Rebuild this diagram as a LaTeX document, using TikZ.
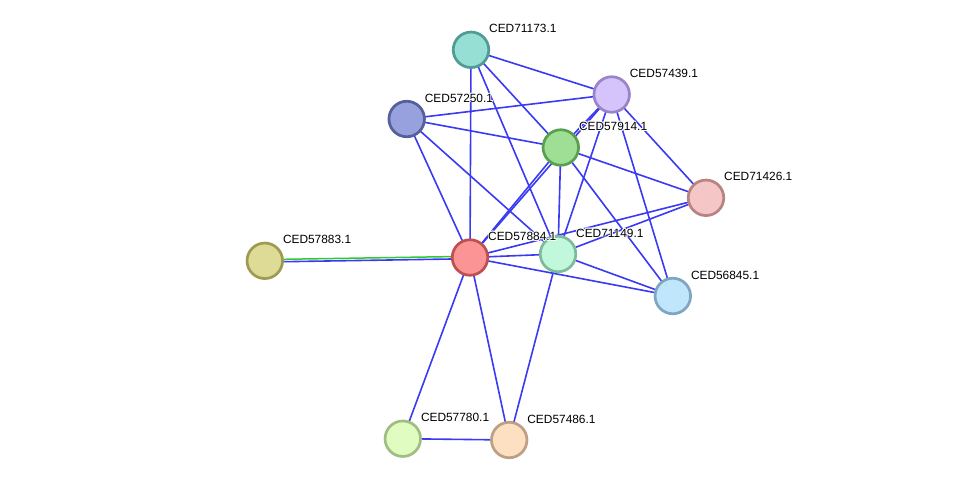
\documentclass[tikz,border=0pt]{standalone}
\usepackage{fontspec}
\setmainfont{Liberation Sans}
\definecolor{edgeblue}{RGB}{58,58,245}
\definecolor{edgegreen}{RGB}{50,200,50}
\tikzset{
  x=1pt,y=-1pt,
  prot/.style={circle,minimum size=35.5pt,inner sep=0pt,line width=2.7pt},
  edge/.style={edgeblue,line width=1.6pt},
  lbl/.style={anchor=base west,inner sep=0pt,font=\fontsize{11.9}{13}\selectfont,text=black},
}
\newcommand\protlabel[2]{%
  \foreach \dx/\dy in {0.8/0,-0.8/0,0/0.8,0/-0.8,0.6/0.6,-0.6/0.6,0.6/-0.6,-0.6/-0.6}
    \node[lbl,text=white] at ([shift={(18+\dx,-17+\dy)}]#1.center) {#2};
  \node[lbl] (#1-lbl) at ([shift={(18,-17)}]#1.center) {#2};
}
\begin{document}
\begin{tikzpicture}
\fill[white] (0,0) rectangle (975,485);
\useasboundingbox (0,0) rectangle (975,485);
% nodes (positions)
\coordinate (p71173) at (471,49.8);
\coordinate (p57439) at (611.7,94.5);
\coordinate (p57250) at (406.7,119);
\coordinate (p57914) at (560.8,147.5);
\coordinate (p71426) at (706,197.8);
\coordinate (p57883) at (264.8,260.8);
\coordinate (p57884) at (470,257.5);
\coordinate (p71149) at (558,254);
\coordinate (p56845) at (672.8,296);
\coordinate (p57780) at (402.8,438.7);
\coordinate (p57486) at (509.2,440);
% edges
\draw[edge] (p71173) -- (p57439);
\draw[edge] (p71173) -- (p57884);
\draw[edge] (p71173) -- (p71149);
\draw[edge] (p71173) -- (p57914);
\draw[edge] (p57250) -- (p57439);
\draw[edge] (p57250) -- (p57914);
\draw[edge] (p57250) -- (p57884);
\draw[edge] (p57250) -- (p71149);
\draw[edge] (p57439) -- (p57914);
\draw[edge] (p57439) -- (p57884);
\draw[edge] (p57439) -- (p71149);
\draw[edge] (p57439) -- (p56845);
\draw[edge] (p57439) -- (p71426);
\draw[edge] (p57914) -- (p57884);
\draw[edge] (p57914) -- (p71149);
\draw[edge] (p57914) -- (p71426);
\draw[edge] (p57914) -- (p56845);
\draw[edge] (p57884) -- (p71149);
\draw[edge] (p57884) -- (p56845);
\draw[edge] (p57884) -- (p71426);
\draw[edge] (p57884) -- (p57780);
\draw[edge] (p57884) -- (p57486);
\draw[edge] (p71149) -- (p71426);
\draw[edge] (p71149) -- (p56845);
\draw[edge] (p71149) -- (p57486);
\draw[edge] (p57780) -- (p57486);
\draw[edge] ([yshift=-1.2]p57883) -- ([yshift=-1.2]p57884);
\draw[edgegreen,line width=1.5pt] ([yshift=1.2]p57883) -- ([yshift=1.2]p57884);
% circles
\node[prot,draw={rgb,255:red,80;green,155;blue,147},fill={rgb,255:red,150;green,223;blue,213}] (n71173) at (p71173) {};
\node[prot,draw={rgb,255:red,154;green,132;blue,201},fill={rgb,255:red,212;green,196;blue,251}] (n57439) at (p57439) {};
\node[prot,draw={rgb,255:red,85;green,95;blue,153},fill={rgb,255:red,150;green,161;blue,221}] (n57250) at (p57250) {};
\node[prot,draw={rgb,255:red,90;green,159;blue,80},fill={rgb,255:red,159;green,222;blue,149}] (n57914) at (p57914) {};
\node[prot,draw={rgb,255:red,184;green,131;blue,131},fill={rgb,255:red,245;green,198;blue,198}] (n71426) at (p71426) {};
\node[prot,draw={rgb,255:red,157;green,154;blue,82},fill={rgb,255:red,222;green,219;blue,151}] (n57883) at (p57883) {};
\node[prot,draw={rgb,255:red,192;green,80;blue,80},fill={rgb,255:red,251;green,149;blue,149}] (n57884) at (p57884) {};
\node[prot,draw={rgb,255:red,125;green,187;blue,154},fill={rgb,255:red,193;green,248;blue,220}] (n71149) at (p71149) {};
\node[prot,draw={rgb,255:red,126;green,166;blue,192},fill={rgb,255:red,192;green,230;blue,251}] (n56845) at (p56845) {};
\node[prot,draw={rgb,255:red,160;green,189;blue,130},fill={rgb,255:red,224;green,252;blue,192}] (n57780) at (p57780) {};
\node[prot,draw={rgb,255:red,189;green,160;blue,132},fill={rgb,255:red,253;green,223;blue,194}] (n57486) at (p57486) {};
% labels
\protlabel{n71173}{CED71173.1}
\protlabel{n57439}{CED57439.1}
\protlabel{n57250}{CED57250.1}
\protlabel{n57914}{CED57914.1}
\protlabel{n71426}{CED71426.1}
\protlabel{n57883}{CED57883.1}
\protlabel{n57884}{CED57884.1}
\protlabel{n71149}{CED71149.1}
\protlabel{n56845}{CED56845.1}
\protlabel{n57780}{CED57780.1}
\protlabel{n57486}{CED57486.1}
\end{tikzpicture}
\end{document}
